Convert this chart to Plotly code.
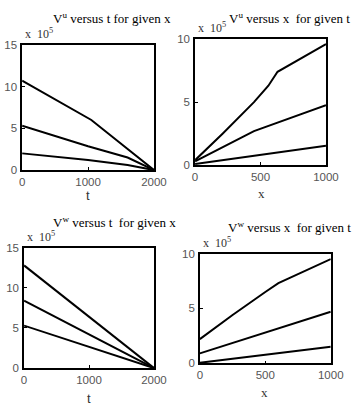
import plotly.graph_objects as go

W, H = 360, 411

# ---- data (values in units of 1e5) ----
# V^u versus t for given x
vu_t_t = [[0, 1050, 2000], [0, 1000, 1600, 2000], [0, 1000, 1600, 2000]]
vu_t_v = [[10.7, 6.0, 0.0], [5.3, 2.85, 1.5, 0.0], [2.0, 1.2, 0.6, 0.0]]
# V^u versus x for given t
vu_x_x = [[0, 210, 450, 560, 630, 1000], [0, 450, 1000], [0, 1000]]
vu_x_v = [[0.4, 2.5, 5.0, 6.3, 7.4, 9.6], [0.3, 2.7, 4.75], [0.1, 1.55]]
# V^w versus t for given x
vw_t_t = [[0, 2000], [0, 2000], [0, 2000]]
vw_t_v = [[12.8, 0.0], [8.4, 0.0], [5.3, 0.0]]
# V^w versus x for given t
vw_x_x = [[0, 250, 500, 600, 1000], [0, 1000], [0, 1000]]
vw_x_v = [[2.2, 4.4, 6.5, 7.3, 9.5], [0.9, 4.7], [0.05, 1.5]]

titles = ["V<sup>u</sup> versus t for given x", "V<sup>u</sup> versus x  for given t",
          "V<sup>w</sup> versus t  for given x", "V<sup>w</sup> versus x  for given t"]
xlabels = ["t", "x", "t", "x"]
xranges = [[0, 2000], [0, 1000], [0, 2000], [0, 1000]]
yranges = [[0, 15], [0, 10], [0, 15], [0, 10]]
xticks = [[0, 1000, 2000], [0, 500, 1000], [0, 1000, 2000], [0, 500, 1000]]
yticks = [[0, 5, 10, 15], [0, 5, 10], [0, 5, 10, 15], [0, 5, 10]]

# pixel boxes (left, right, top, bottom)
boxes = [(20, 158, 40, 169), (201, 338, 34, 164), (22, 158, 249, 373), (206, 343, 255, 368)]
title_pos = [(114, 12), (300, 12), (117, 222), (300, 228)]
xlab_pos = [(89, 195), (270, 193), (90, 404), (274, 398)]
xlab_font = ["Liberation Sans, sans-serif", "Liberation Serif, serif",
             "Liberation Sans, sans-serif", "Liberation Serif, serif"]

data = [(vu_t_t, vu_t_v), (vu_x_x, vu_x_v), (vw_t_t, vw_t_v), (vw_x_x, vw_x_v)]

fig = go.Figure()
tickfont = dict(family="Liberation Sans, sans-serif", size=11.5, color="#555555")
annotations = []
for i in range(4):
    sfx = "" if i == 0 else str(i + 1)
    xs, vs = data[i]
    for xx, vv in zip(xs, vs):
        fig.add_trace(go.Scatter(x=xx, y=vv, mode="lines", line=dict(color="black", width=2),
                                 xaxis="x" + sfx, yaxis="y" + sfx, showlegend=False,
                                 hoverinfo="skip"))
    l, r, t, b = boxes[i]
    fig.layout["xaxis" + sfx] = dict(domain=[l / W, r / W], range=xranges[i], tickvals=xticks[i],
                                     anchor="y" + sfx, showline=True, mirror=True, linecolor="black",
                                     linewidth=1.5, ticks="inside", ticklen=3, tickcolor="black",
                                     showgrid=False, zeroline=False, tickfont=tickfont, ticklabelstandoff=0)
    fig.layout["yaxis" + sfx] = dict(domain=[1 - b / H, 1 - t / H], range=yranges[i], tickvals=yticks[i],
                                     anchor="x" + sfx, showline=True, mirror=True, linecolor="black",
                                     linewidth=1.5, ticks="inside", ticklen=3, tickcolor="black",
                                     showgrid=False, zeroline=False, tickfont=tickfont, ticklabelstandoff=1)
    tx, ty = title_pos[i]
    annotations.append(dict(text=titles[i], x=tx / W, y=1 - ty / H, xref="paper", yref="paper",
                            showarrow=False, xanchor="center", yanchor="middle",
                            font=dict(family="Liberation Serif, serif", size=13, color="black")))
    annotations.append(dict(text="x  10<sup>5</sup>", x=(l + 1) / W, y=1 - (t - 2) / H, xref="paper",
                            yref="paper", showarrow=False, xanchor="left", yanchor="bottom",
                            font=dict(family="Liberation Serif, serif", size=12, color="#333333")))
    lx, ly = xlab_pos[i]
    annotations.append(dict(text=xlabels[i], x=lx / W, y=1 - ly / H, xref="paper", yref="paper",
                            showarrow=False, xanchor="center", yanchor="middle", borderpad=0,
                            font=dict(family=xlab_font[i], size=13, color="#333333")))

fig.update_layout(width=W, height=H, margin=dict(l=0, r=0, t=0, b=0),
                  paper_bgcolor="white", plot_bgcolor="white", annotations=annotations)
fig.write_html("out.html")
